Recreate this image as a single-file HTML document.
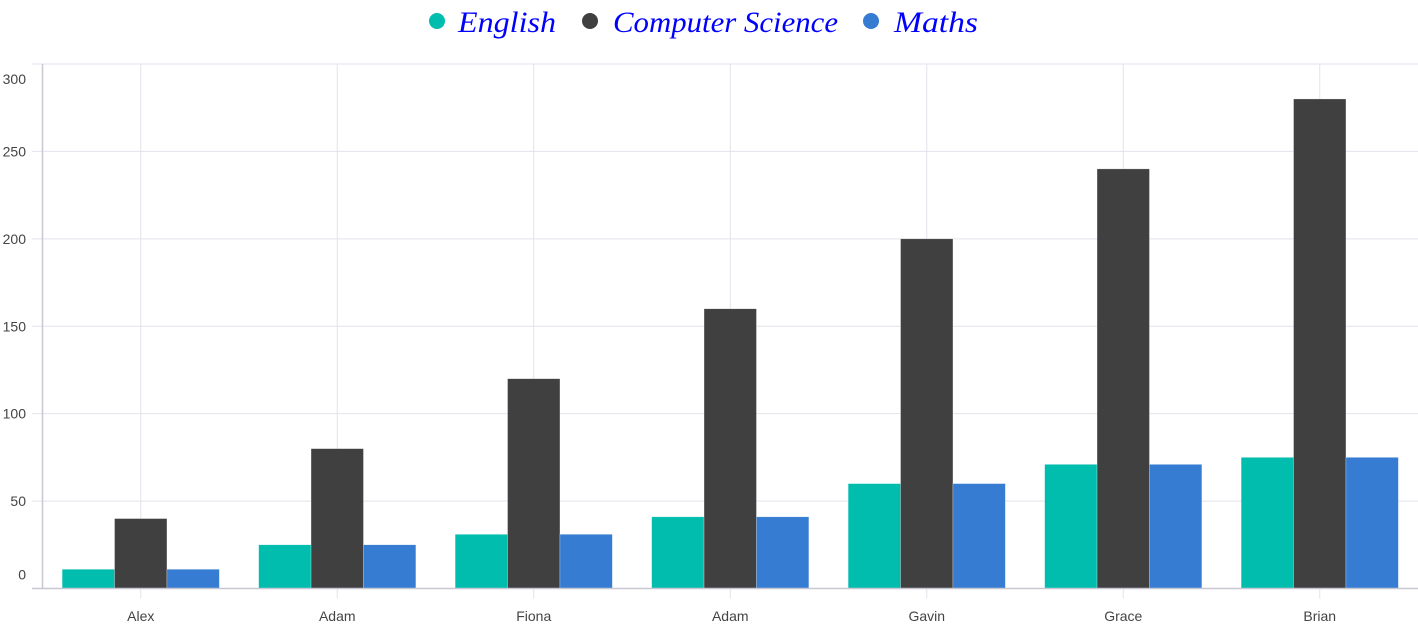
<!DOCTYPE html>
<html><head><meta charset="utf-8"><style>
html,body{margin:0;padding:0;background:#fff;width:1418px;height:639px;overflow:hidden}
svg{display:block}
</style></head><body>
<svg id="chart" width="1418" height="639" xmlns="http://www.w3.org/2000/svg" font-family="Liberation Sans, sans-serif">
<g id="legend">
 <g><circle cx="437" cy="21" r="8" fill="#00bdae"/><text x="458" y="32" font-family="Liberation Serif, serif" font-style="italic" font-size="30" fill="#0000ff" textLength="98" lengthAdjust="spacingAndGlyphs">English</text></g>
 <g><circle cx="590" cy="21" r="8" fill="#404041"/><text x="613" y="32" font-family="Liberation Serif, serif" font-style="italic" font-size="30" fill="#0000ff" textLength="225" lengthAdjust="spacingAndGlyphs">Computer Science</text></g>
 <g><circle cx="871" cy="21" r="8" fill="#357cd2"/><text x="894" y="32" font-family="Liberation Serif, serif" font-style="italic" font-size="30" fill="#0000ff" textLength="84" lengthAdjust="spacingAndGlyphs">Maths</text></g>
</g>
<g id="grid"></g><g id="bars"></g><g id="axes"></g>
</svg>
<script>
const categories=["Alex","Adam","Fiona","Adam","Gavin","Grace","Brian"];
const english=[11,25,31,41,60,71,75];
const computerScience=[40,80,120,160,200,240,280];
const maths=[11,25,31,41,60,71,75];
const yTicks=[0,50,100,150,200,250,300];
const seriesColors=["#00bdae","#404041","#357cd2"];

const NS="http://www.w3.org/2000/svg";
const L=42.5,R=1418,T=64,B=588.5,yMax=300;
const y=v=>B-(v/yMax)*(B-T);
const bw=(R-L)/categories.length;
const x=i=>L+bw*(i+0.5);
function mk(tag,attrs,parent){const e=document.createElementNS(NS,tag);for(const k in attrs)e.setAttribute(k,attrs[k]);parent.appendChild(e);return e;}
const grid=document.getElementById('grid'),bars=document.getElementById('bars'),axes=document.getElementById('axes');
yTicks.forEach((t,i)=>{
 const g=mk('line',{x1:32,x2:R,y1:y(t),y2:y(t),stroke:'#e2e2ec','stroke-width':1},grid);
 
 
 let ly=y(t)+5;
 if(i===0)ly=y(t)-9; if(i===yTicks.length-1)ly=y(t)+20;
 const lb=mk('text',{x:26,y:ly,'text-anchor':'end','font-size':14,fill:'#444'},axes);
 lb.textContent=t;
 
 
});
categories.forEach((c,i)=>{
 const g=mk('line',{x1:x(i),x2:x(i),y1:T,y2:B+10,stroke:'#e2e2ec','stroke-width':1},grid);
 
 
 const lb=mk('text',{x:x(i),y:621,'text-anchor':'middle','font-size':14,fill:'#444'},axes);
 lb.textContent=c;
 
 
});
const series=[english,computerScience,maths];
const names=["english","computer-science","maths"];
const barW=bw*0.8/3;
categories.forEach((c,i)=>{
 series.forEach((s,j)=>{
  const bx=x(i)-bw*0.4+j*barW;
  const r=mk('rect',{x:bx,y:y(s[i]),width:barW,height:B-y(s[i]),fill:seriesColors[j],stroke:'#ffffff','stroke-opacity':0.5,'stroke-width':0.5},bars);
  
  
 });
});
const ya=mk('line',{x1:L,x2:L,y1:T,y2:B,stroke:'#c8c8d4','stroke-width':1.5},axes);


const xa=mk('line',{x1:32,x2:R,y1:B,y2:B,stroke:'#c8c8d4','stroke-width':1.5},axes);


</script>
</body></html>
